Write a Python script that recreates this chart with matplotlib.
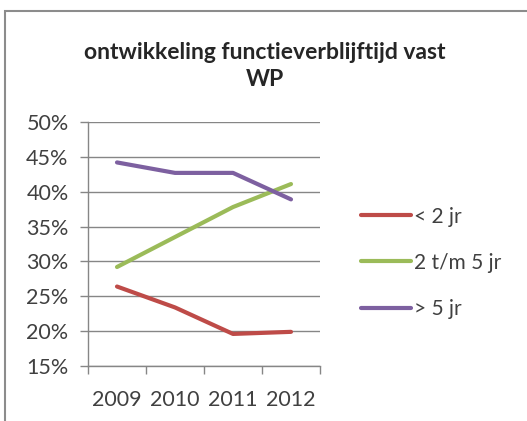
import matplotlib
matplotlib.use("Agg")
import matplotlib.pyplot as plt
from matplotlib.patches import Rectangle
from matplotlib.ticker import FuncFormatter

years = ["2009", "2010", "2011", "2012"]
series_names = ["< 2 jr", "2 t/m 5 jr", "> 5 jr"]
lt2 = [26.4, 23.4, 19.6, 19.9]
t2to5 = [29.2, 33.5, 37.8, 41.1]
gt5 = [44.2, 42.7, 42.7, 38.9]
colors = ["#BE4B48", "#9BBB59", "#7D60A0"]
title = "ontwikkeling functieverblijftijd vast\nWP"

plt.rcParams['font.family'] = ['Lato', 'DejaVu Sans']

W, H = 527, 421
fig = plt.figure(figsize=(W/100, H/100), dpi=100)
fig.patch.set_facecolor("white")
fig.patches.append(Rectangle((5/W, -0.1), 1.2, 1 - 11/H + 0.1, transform=fig.transFigure,
                             fill=False, edgecolor="#8c8c8c", linewidth=1.5))

ax = fig.add_axes([88/W, 1-366/H, 232/W, 244/H])
x = list(range(len(years)))
for vals, c, name in zip([lt2, t2to5, gt5], colors, series_names):
    ax.plot(x, vals, color=c, linewidth=3.0, label=name, solid_capstyle="round")

ax.set_ylim(15, 50)
ax.set_xlim(-0.5, 3.5)
ax.set_yticks(range(15, 51, 5))
ax.yaxis.set_major_formatter(FuncFormatter(lambda v, p: f"{int(v)}%"))
ax.set_xticks([-0.5, 0.5, 1.5, 2.5, 3.5])
ax.set_xticklabels([])
ax.set_xticks(x, minor=True)
ax.set_xticklabels(years, minor=True)
ax.tick_params(axis="x", which="major", length=6, color="#868686", width=1, direction="out")
ax.tick_params(axis="x", which="minor", length=0, pad=17, labelsize=15.5, labelcolor="#404040")
ax.tick_params(axis="y", length=6, color="#868686", width=1, direction="out", pad=8,
               labelsize=15.5, labelcolor="#404040")
ax.grid(axis="y", color="#868686", linewidth=1)
ax.set_axisbelow(True)
for s in ["top", "right"]:
    ax.spines[s].set_visible(False)
for s in ["left", "bottom"]:
    ax.spines[s].set_color("#868686")
    ax.spines[s].set_linewidth(1)
ax.set_facecolor("white")

fig.text(265/W, 1-66/H, title, ha="center", va="center", fontsize=16.5, fontweight="bold",
         color="#262626", linespacing=1.35)

leg = fig.legend(loc="upper left", bbox_to_anchor=(342/W, 1-188/H), frameon=False,
                 fontsize=15, handlelength=2.4, handletextpad=0.15, labelspacing=1.25,
                 labelcolor="#404040")

fig.savefig("out.png", dpi=100, facecolor="white")
